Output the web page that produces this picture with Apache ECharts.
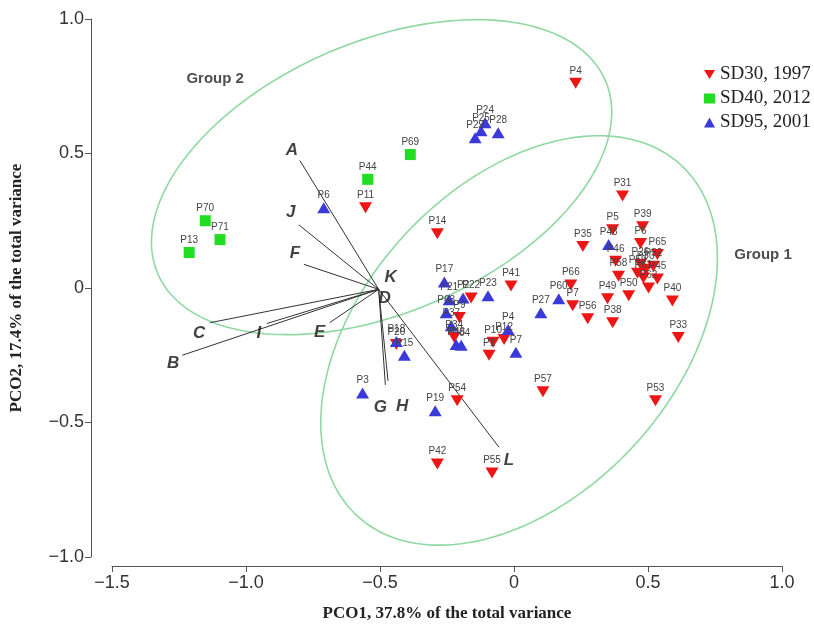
<!DOCTYPE html>
<html>
<head>
<meta charset="utf-8">
<script src="https://cdn.jsdelivr.net/npm/echarts@6/dist/echarts.min.js"></script>
<style>
    html, body { margin: 0; padding: 0; background: #fff; }
    #chart { width: 814px; height: 627px; }
</style>
</head>
<body>
<div id="chart"></div>
<script>
    // points: [PCO1, PCO2, label]
    var sd30 = [
        [0.230, 0.761, 'P4'], [0.405, 0.342, 'P31'], [0.368, 0.217, 'P5'], [0.480, 0.228, 'P39'],
        [0.472, 0.165, 'P6'], [0.535, 0.125, 'P65'], [0.379, 0.099, 'P46'], [0.472, 0.088, 'P26'],
        [0.491, 0.070, 'P30'], [0.520, 0.081, 'P32'], [0.461, 0.055, 'P59'], [0.483, 0.037, 'P61'],
        [0.535, 0.033, 'P45'], [0.502, 0.000, 'P62'], [0.390, 0.044, 'P58'], [0.428, -0.029, 'P50'],
        [0.349, -0.040, 'P49'], [0.591, -0.048, 'P40'], [0.257, 0.154, 'P35'], [0.212, 0.011, 'P66'],
        [0.219, -0.066, 'P7'], [0.275, -0.114, 'P56'], [0.368, -0.129, 'P38'], [0.613, -0.184, 'P33'],
        [0.528, -0.419, 'P53'], [0.108, -0.386, 'P57'], [-0.212, -0.419, 'P54'], [-0.286, -0.654, 'P42'],
        [-0.082, -0.688, 'P55'], [-0.011, 0.007, 'P41'], [-0.160, -0.037, 'P22'], [-0.204, -0.110, 'P9'],
        [-0.223, -0.184, 'P34'], [-0.078, -0.202, 'P10'], [-0.037, -0.191, 'P12'], [-0.093, -0.250, 'P1'],
        [-0.286, 0.202, 'P14'], [-0.554, 0.298, 'P11'], [-0.439, -0.210, 'P20']
    ];
    var sd40 = [
        [-0.387, 0.496, 'P69'], [-0.546, 0.404, 'P44'], [-1.152, 0.250, 'P70'],
        [-1.097, 0.180, 'P71'], [-1.212, 0.132, 'P13']
    ];
    var sd95 = [
        [-0.108, 0.614, 'P24'], [-0.123, 0.585, 'P25'], [-0.145, 0.559, 'P29'], [-0.059, 0.577, 'P28'],
        [-0.710, 0.298, 'P6'], [0.353, 0.162, 'P43'], [0.167, -0.040, 'P60'], [0.100, -0.092, 'P27'],
        [-0.260, 0.022, 'P17'], [-0.190, -0.037, 'P2'], [-0.097, -0.029, 'P23'], [-0.242, -0.044, 'P21'],
        [-0.253, -0.092, 'P63'], [-0.234, -0.140, 'P37'], [-0.216, -0.210, 'P48'], [-0.197, -0.213, 'P64'],
        [-0.022, -0.154, 'P4'], [0.007, -0.239, 'P7'], [-0.439, -0.199, 'P18'], [-0.409, -0.250, 'P15'],
        [-0.565, -0.390, 'P3'], [-0.294, -0.456, 'P19']
    ];

    // variable vectors
    var vecOrigin = [-0.505, -0.005];
    var vecNames = ['A', 'J', 'F', 'C', 'B', 'I', 'E', 'G', 'H', 'L', 'K', 'D'];
    var vecEnds = [
        [-0.799, 0.474], [-0.803, 0.235], [-0.784, 0.088], [-1.134, -0.129], [-1.238, -0.250],
        [-0.922, -0.132], [-0.688, -0.129], [-0.480, -0.360], [-0.470, -0.345], [-0.056, -0.592],
        [-0.505, -0.005], [-0.505, -0.005]
    ];

    // ellipses: [cx, cy, a, b, angle deg]
    var group1 = [0.019, -0.195, 0.889, 0.580, 47];
    var group2 = [-0.494, 0.412, 0.909, 0.504, 23.2];
    var groupNames = ['Group 1', 'Group 2'];
    var groupLabelPos = [[0.929, 0.125], [-1.115, 0.779]];

    var xTicks = [-1.5, 1.0, 0.5];   // min, max, interval
    var yTicks = [-1.0, 1.0, 0.5];

    var labelOffset = {
        A: [-8, -10], J: [-8, -12], F: [-9, -11], C: [-11, 11], B: [-9, 8], I: [-8, 10],
        E: [-10, 10], G: [-5, 22], H: [14, 26], L: [10, 13], K: [12, -12], D: [6, 9]
    };

    function fmt(v) {
        if (v === 0) return '0';
        return (v < 0 ? '\u2212' : '') + Math.abs(v).toFixed(1);
    }

    function ellipseSeries(e) {
        return {
            type: 'custom',
            silent: true,
            clip: false,
            z: 1,
            data: [[e[0], e[1]]],
            renderItem: function (params, api) {
                var pts = [];
                var th = e[4] * Math.PI / 180;
                for (var i = 0; i <= 180; i++) {
                    var t = i / 180 * Math.PI * 2;
                    var ux = e[2] * Math.cos(t), uy = e[3] * Math.sin(t);
                    pts.push(api.coord([e[0] + ux * Math.cos(th) - uy * Math.sin(th),
                                        e[1] + ux * Math.sin(th) + uy * Math.cos(th)]));
                }
                return {
                    type: 'polyline',
                    shape: { points: pts },
                    style: { stroke: '#8fd8a2', lineWidth: 1.6, fill: null }
                };
            }
        };
    }

    var pointLabel = {
        show: true,
        position: 'top',
        distance: 2,
        fontFamily: 'Liberation Sans',
        fontSize: 10,
        color: '#444',
        formatter: function (p) { return p.value[2]; }
    };

    var mychart = echarts.init(document.getElementById('chart'));
    var option = {
        animation: false,
        backgroundColor: '#fff',
        grid: { left: 109, right: 32, top: 19, bottom: 64 },
        legend: {
            orient: 'vertical',
            left: 704,
            top: 65,
            padding: 0,
            itemWidth: 11,
            itemHeight: 10,
            itemGap: 5,
            textStyle: { fontFamily: 'Liberation Serif', fontSize: 19, color: '#222' },
            data: ['SD30, 1997', 'SD40, 2012', 'SD95, 2001']
        },
        xAxis: {
            type: 'value',
            min: xTicks[0], max: xTicks[1], interval: xTicks[2],
            offset: 9,
            splitLine: { show: false },
            axisLine: { onZero: false, lineStyle: { color: '#555' } },
            axisTick: { length: 6, lineStyle: { color: '#555' } },
            axisLabel: { formatter: fmt, fontFamily: 'Liberation Sans', fontSize: 18, color: '#333', margin: 8 },
            name: 'PCO1, 37.8% of the total variance',
            nameLocation: 'middle',
            nameGap: 39,
            nameTextStyle: { fontFamily: 'Liberation Serif', fontWeight: 'bold', fontSize: 17, color: '#222' }
        },
        yAxis: {
            type: 'value',
            min: yTicks[0], max: yTicks[1], interval: yTicks[2],
            offset: 21,
            splitLine: { show: false },
            axisLine: { show: true, onZero: false, lineStyle: { color: '#555' } },
            axisTick: { show: true, length: 6, lineStyle: { color: '#555' } },
            axisLabel: { formatter: fmt, fontFamily: 'Liberation Sans', fontSize: 18, color: '#333', margin: 7 },
            name: 'PCO2, 17.4% of the total variance',
            nameLocation: 'middle',
            nameGap: 66,
            nameTextStyle: { fontFamily: 'Liberation Serif', fontWeight: 'bold', fontSize: 17, color: '#222' }
        },
        series: [
            ellipseSeries(group1),
            ellipseSeries(group2),
            {
                type: 'lines',
                coordinateSystem: 'cartesian2d',
                silent: true,
                z: 2,
                lineStyle: { color: '#333', width: 1, opacity: 1 },
                data: vecEnds.map(function (e) { return { coords: [vecOrigin, e] }; })
            },
            {
                type: 'scatter',
                silent: true,
                symbolSize: 0,
                z: 3,
                data: vecEnds.map(function (e, i) { return [e[0], e[1], vecNames[i]]; }),
                label: {
                    show: true,
                    position: 'inside',
                    fontFamily: 'Liberation Sans',
                    fontWeight: 'bold',
                    fontStyle: 'italic',
                    fontSize: 17,
                    color: '#111',
                    formatter: function (p) { return p.value[2]; }
                },
                labelLayout: function (p) {
                    var o = labelOffset[vecNames[p.dataIndex]];
                    return { dx: o[0], dy: o[1] };
                }
            },
            {
                type: 'scatter',
                silent: true,
                symbolSize: 0,
                z: 3,
                data: groupLabelPos.map(function (e, i) { return [e[0], e[1], groupNames[i]]; }),
                label: {
                    show: true,
                    position: 'inside',
                    fontFamily: 'Liberation Sans',
                    fontWeight: 'bold',
                    fontSize: 15,
                    color: '#222',
                    formatter: function (p) { return p.value[2]; }
                }
            },
            {
                name: 'SD30, 1997',
                type: 'scatter',
                symbol: 'path://M0,0L12,0L6,10Z',
                symbolSize: [13, 11],
                itemStyle: { color: '#ee1515', opacity: 1 },
                z: 4,
                label: pointLabel,
                data: sd30
            },
            {
                name: 'SD40, 2012',
                type: 'scatter',
                symbol: 'rect',
                symbolSize: [11, 11],
                itemStyle: { color: '#22dd22', opacity: 1 },
                z: 4,
                label: pointLabel,
                data: sd40
            },
            {
                name: 'SD95, 2001',
                type: 'scatter',
                symbol: 'triangle',
                symbolSize: [13, 11],
                itemStyle: { color: '#3a3adb', opacity: 1 },
                z: 4,
                label: pointLabel,
                data: sd95
            }
        ]
    };
    mychart.setOption(option);
</script>
</body>
</html>
